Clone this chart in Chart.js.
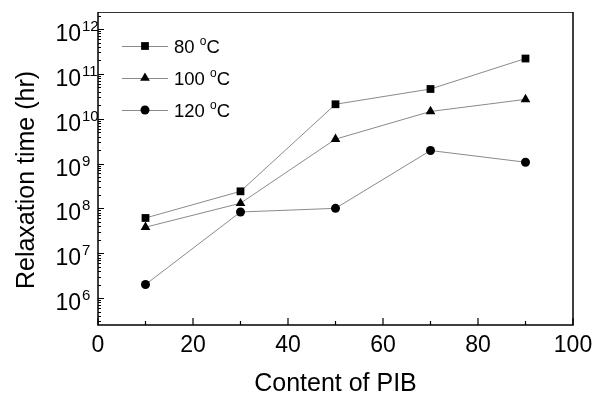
<!DOCTYPE html>
<html>
<head>
<meta charset="utf-8">
<script src="https://cdn.jsdelivr.net/npm/chart.js@4/dist/chart.umd.min.js"></script>
<style>
  html, body { margin: 0; padding: 0; background: #fff; }
  #chart { display: block; }
</style>
</head>
<body>
<canvas id="chart" width="595" height="396"></canvas>
<script>
// ----- Data -----
const pibContent = [10, 30, 50, 70, 90];
const tau80 = [6.1e7, 2.4e8, 2.1e10, 4.6e10, 2.2e11];
const tau100 = [3.8e7, 1.3e8, 3.5e9, 1.45e10, 2.7e10];
const tau120 = [2.0e6, 8.3e7, 1.0e8, 1.95e9, 1.07e9];
const seriesTemps = ["80", "100", "120"];
const seriesMarkers = ["rect", "triangle", "circle"];
const xTicks = [0, 20, 40, 60, 80, 100];
const xMinorTicks = [10, 30, 50, 70, 90];
const yExponents = [6, 7, 8, 9, 10, 11, 12];

const FONT = "'Liberation Sans', Arial, sans-serif";
const LINE_COLOR = "#8a8a8a";

const toPoints = (ys) => pibContent.map((x, i) => ({ x, y: ys[i] }));

/**
 * Draws a marker the same size as Chart.js would for a given style.
 */
function drawMarker(ctx, style, x, y) {
  ctx.save();
  ctx.fillStyle = "#000";
  ctx.beginPath();
  if (style === "rect") {
    const s = 5.5 * Math.SQRT1_2;
    ctx.rect(x - s, y - s, 2 * s, 2 * s);
  } else if (style === "triangle") {
    const r = 5.6;
    ctx.moveTo(x, y - r);
    ctx.lineTo(x + r * Math.sin(Math.PI / 3), y + r / 2);
    ctx.lineTo(x - r * Math.sin(Math.PI / 3), y + r / 2);
    ctx.closePath();
  } else {
    ctx.arc(x, y, 4.5, 0, Math.PI * 2);
  }
  ctx.fill();
  ctx.restore();
}

// ----- Axes, labels and legend drawn on top of the chart area -----
const decorations = {
  id: "decorations",
  afterDraw(chart) {
    const { ctx, chartArea: a, scales } = chart;
    const xs = scales.x, ys = scales.y;
    ctx.save();

    // frame
    ctx.strokeStyle = "#333";
    ctx.lineWidth = 1;
    ctx.beginPath();
    ctx.moveTo(a.left, a.top + 0.5);
    ctx.lineTo(a.right, a.top + 0.5);
    ctx.stroke();
    ctx.strokeStyle = "#000";
    ctx.lineWidth = 1.5;
    ctx.beginPath();
    ctx.moveTo(a.right, a.top);
    ctx.lineTo(a.right, a.bottom);
    ctx.lineTo(a.left, a.bottom);
    ctx.lineTo(a.left, a.top);
    ctx.stroke();

    // x ticks (inward)
    ctx.lineWidth = 1.2;
    ctx.beginPath();
    xTicks.forEach(v => {
      const px = xs.getPixelForValue(v);
      ctx.moveTo(px, a.bottom);
      ctx.lineTo(px, a.bottom - 7);
    });
    xMinorTicks.forEach(v => {
      const px = xs.getPixelForValue(v);
      ctx.moveTo(px, a.bottom);
      ctx.lineTo(px, a.bottom - 4);
    });
    ctx.stroke();

    // y ticks (inward), major per decade and minor 2..9
    ctx.lineWidth = 1;
    ctx.beginPath();
    for (let k = 5; k <= 12; k++) {
      for (let m = 1; m <= 9; m++) {
        const v = m * Math.pow(10, k);
        if (v < ys.min || v > ys.max) continue;
        const py = Math.round(ys.getPixelForValue(v)) + 0.5;
        ctx.moveTo(a.left, py);
        ctx.lineTo(a.left + (m === 1 ? 6 : 3), py);
      }
    }
    ctx.stroke();

    // x tick labels
    ctx.fillStyle = "#000";
    ctx.font = `23px ${FONT}`;
    ctx.textAlign = "center";
    ctx.textBaseline = "alphabetic";
    xTicks.forEach(v => {
      ctx.fillText(String(v), xs.getPixelForValue(v), 352);
    });

    // y tick labels: 10 with superscript exponent
    yExponents.forEach(e => {
      const py = ys.getPixelForValue(Math.pow(10, e));
      ctx.font = `23px ${FONT}`;
      ctx.textAlign = "right";
      ctx.fillText("10", 81, py + 12);
      ctx.font = `15px ${FONT}`;
      ctx.textAlign = "left";
      ctx.fillText(String(e), 82, py + 2);
    });

    // axis titles
    ctx.font = `25px ${FONT}`;
    ctx.textAlign = "center";
    ctx.fillText("Content of PIB", (a.left + a.right) / 2, 391);
    ctx.save();
    ctx.translate(34, 180);
    ctx.rotate(-Math.PI / 2);
    ctx.fillText("Relaxation time (hr)", 0, 0);
    ctx.restore();

    // legend
    const rowsY = [46, 78, 110];
    seriesTemps.forEach((t, i) => {
      const y = rowsY[i];
      ctx.strokeStyle = LINE_COLOR;
      ctx.lineWidth = 1;
      ctx.beginPath();
      ctx.moveTo(122, y + 0.5);
      ctx.lineTo(168, y + 0.5);
      ctx.stroke();
      drawMarker(ctx, seriesMarkers[i], 145, y);

      ctx.fillStyle = "#000";
      ctx.textAlign = "left";
      ctx.font = `18.5px ${FONT}`;
      const label = t + " ";
      const base = y + 7;
      ctx.fillText(label, 174, base);
      let x = 174 + ctx.measureText(label).width;
      ctx.font = `12px ${FONT}`;
      ctx.fillText("o", x, base - 8);
      x += ctx.measureText("o").width;
      ctx.font = `18.5px ${FONT}`;
      ctx.fillText("C", x, base);
    });

    ctx.restore();
  }
};

function makeDataset(label, values, marker) {
  return {
    label,
    data: toPoints(values),
    showLine: true,
    borderColor: LINE_COLOR,
    borderWidth: 1,
    pointStyle: marker,
    pointRadius: marker === "circle" ? 4.5 : marker === "triangle" ? 5.6 : 5.5,
    pointBackgroundColor: "#000",
    pointBorderColor: "#000",
    pointBorderWidth: 0,
    tension: 0,
  };
}

document.addEventListener("DOMContentLoaded", () => {
  const ctx = document.getElementById("chart").getContext("2d");

  window.relaxChart = new Chart(ctx, {
    type: "scatter",
    data: {
      datasets: [
        makeDataset("80 °C", tau80, seriesMarkers[0]),
        makeDataset("100 °C", tau100, seriesMarkers[1]),
        makeDataset("120 °C", tau120, seriesMarkers[2]),
      ]
    },
    options: {
      responsive: false,
      animation: false,
      devicePixelRatio: 1,
      layout: { padding: { left: 98, right: 22, top: 12, bottom: 71 } },
      plugins: {
        legend: { display: false },
        tooltip: { enabled: false },
      },
      scales: {
        x: { type: "linear", min: 0, max: 100, display: false },
        y: { type: "logarithmic", min: 2.5e5, max: 2.4e12, display: false },
      }
    },
    plugins: [decorations]
  });
});
</script>
</body>
</html>
